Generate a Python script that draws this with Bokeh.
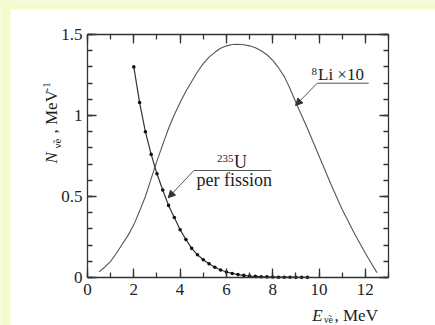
from bokeh.plotting import figure
from bokeh.models import (Range1d, LinearAxis, SingleIntervalTicker, Label, Arrow,
                          NormalHead, ColumnDataSource, BoxAnnotation)
from bokeh.embed import file_html
from bokeh.resources import INLINE

# ---------------- data ----------------
fission_e = [2.0, 2.25, 2.5, 2.75, 3.0, 3.25, 3.5, 3.75, 4.0, 4.25, 4.5, 4.75, 5.0,
             5.25, 5.5, 5.75, 6.0, 6.25, 6.5, 6.75, 7.0, 7.25, 7.5, 7.75, 8.0,
             8.25, 8.5, 8.75, 9.0, 9.25, 9.5]
fission_n = [1.30, 1.08, 0.90, 0.76, 0.64, 0.54, 0.445, 0.37, 0.295, 0.235, 0.18,
             0.14, 0.11, 0.085, 0.063, 0.046, 0.034, 0.025, 0.018, 0.013, 0.009,
             0.007, 0.005, 0.004, 0.003, 0.002, 0.002, 0.002, 0.001, 0.001, 0.001]

li_e = [0.5, 0.75, 1.0, 1.25, 1.5, 1.75, 2.0, 2.25, 2.5, 2.75, 3.0, 3.25, 3.5, 3.75,
        4.0, 4.25, 4.5, 4.75, 5.0, 5.25, 5.5, 5.75, 6.0, 6.25, 6.5, 6.75, 7.0, 7.25,
        7.5, 7.75, 8.0, 8.25, 8.5, 8.75, 9.0, 9.25, 9.5, 9.75, 10.0, 10.25, 10.5,
        10.75, 11.0, 11.25, 11.5, 11.75, 12.0, 12.25, 12.5]
li_n = [0.035, 0.065, 0.10, 0.15, 0.205, 0.26, 0.325, 0.41, 0.50, 0.61, 0.72, 0.82,
        0.92, 1.005, 1.08, 1.15, 1.21, 1.27, 1.32, 1.36, 1.39, 1.415, 1.43, 1.438,
        1.44, 1.437, 1.43, 1.418, 1.40, 1.375, 1.34, 1.295, 1.24, 1.165, 1.08, 1.00,
        0.92, 0.835, 0.75, 0.665, 0.58, 0.50, 0.42, 0.35, 0.28, 0.215, 0.15, 0.09, 0.03]

x_bounds = (0, 13)
y_bounds = (0, 1.5)
x_ticks_interval = 2
y_ticks_interval = 0.5

FONT = "Liberation Serif"
INK = "#333333"
PAGE_BG = "#F2FCCE"

W, H = 435, 325


# page pixel -> data helpers (frame spans the whole canvas)
def dx(px):
    return (px - 87.0) / (301.0 / 13.0)


def dy(py):
    return (277.0 - py) / (243.0 / 1.5)


p = figure(width=W, height=H, output_backend="svg", toolbar_location=None,
           x_range=Range1d(dx(0), dx(W)), y_range=Range1d(dy(H), dy(0)),
           x_axis_location=None, y_axis_location=None,
           min_border=0)
p.background_fill_color = "white"
p.border_fill_color = "white"
p.outline_line_color = None
p.grid.visible = False

# yellow page strips at left and top
p.add_layout(BoxAnnotation(left=dx(0), right=dx(10), bottom=dy(H), top=dy(0),
                           fill_color=PAGE_BG, fill_alpha=1, line_color=None, level="underlay"))
p.add_layout(BoxAnnotation(left=dx(0), right=dx(W), bottom=dy(9), top=dy(0),
                           fill_color=PAGE_BG, fill_alpha=1, line_color=None, level="underlay"))


def make_axis(ticker_interval, minor, labels, loc, bounds):
    ax = LinearAxis(ticker=SingleIntervalTicker(interval=ticker_interval, num_minor_ticks=minor),
                    fixed_location=loc, bounds=bounds)
    ax.axis_line_color = INK
    ax.axis_line_width = 1.3
    ax.major_tick_line_color = INK
    ax.minor_tick_line_color = INK
    ax.major_tick_line_width = 1.3
    ax.minor_tick_line_width = 1.3
    ax.major_tick_in = 9
    ax.major_tick_out = 0
    ax.minor_tick_in = 5
    ax.minor_tick_out = 0
    ax.major_label_text_font = FONT
    ax.major_label_text_font_size = "17px"
    ax.major_label_text_color = "#222222"
    if not labels:
        ax.major_label_text_alpha = 0
        ax.major_label_text_font_size = "1px"
    return ax


bottom = make_axis(x_ticks_interval, 2, True, y_bounds[0], x_bounds)
bottom.major_label_standoff = 6
left = make_axis(y_ticks_interval, 5, True, x_bounds[0], y_bounds)
left.major_label_standoff = 5
top = make_axis(x_ticks_interval, 2, False, y_bounds[1], x_bounds)
right = make_axis(y_ticks_interval, 5, False, x_bounds[1], y_bounds)
p.add_layout(bottom, "below")
p.add_layout(left, "left")
p.add_layout(top, "above")
p.add_layout(right, "right")

li_src = ColumnDataSource(dict(e=li_e, n=li_n))
fi_src = ColumnDataSource(dict(e=fission_e, n=fission_n))
p.line("e", "n", source=li_src, line_color="#555555", line_width=1.1)
p.line("e", "n", source=fi_src, line_color="#333333", line_width=1.2)
p.scatter("e", "n", source=fi_src, size=3.6, fill_color="#111111", line_color=None)


def lab(text, px, py, size, style="normal", align="left", angle=0.0):
    # baseline correction: the rendered glyphs sit ~0.38em lower than the anchor
    shift = 0.38 * size
    if angle == 0.0:
        py -= shift
    else:
        px -= shift
    p.add_layout(Label(x=dx(px), y=dy(py), text=text, text_font=FONT,
                       text_font_size=f"{size}px", text_font_style=style,
                       text_color="#222222", text_align=align,
                       text_baseline="alphabetic", angle=angle))


def seg(x0, y0, x1, y1, head=False):
    p.add_layout(Arrow(x_start=dx(x0), y_start=dy(y0), x_end=dx(x1), y_end=dy(y1),
                       line_color="#555555", line_width=1.0,
                       end=NormalHead(size=7, fill_color="#333333", line_color="#333333")
                       if head else None))


# 8Li x10 annotation
lab("8", 316.5, 75, 11, align="right")
lab("Li \u00d710", 317.5, 80, 17)
seg(316.7, 82.7, 368.3, 82.7)
seg(316.7, 82.7, 295, 105, head=True)

# 235U per fission annotation
lab("235", 233, 162, 11, align="right")
lab("U", 233.5, 168, 18)
seg(193.3, 170, 270.7, 170)
lab("per fission", 196, 186, 18)
seg(193.3, 170, 167.7, 197.3, head=True)

# x axis label
lab("E", 311.7, 321, 17, style="italic")
lab("\u03bd\u0303e", 323.5, 322.5, 10)
lab(", MeV", 334, 321, 17)

# y axis label (rotated)
ang = 1.5707963267948966
lab("N", 57, 163, 17, style="italic", angle=ang)
lab("\u03bd\u0303e", 61, 148, 11, angle=ang)
lab(", MeV", 57, 133, 17, angle=ang)
lab("-1", 50, 91, 11, angle=ang)

html = file_html(p, INLINE)
style = "<style>html, body { background-color: " + PAGE_BG + " !important; }</style>"
html = html.replace("</title>", "</title>" + style, 1)
open("out.html", "w").write(html)
